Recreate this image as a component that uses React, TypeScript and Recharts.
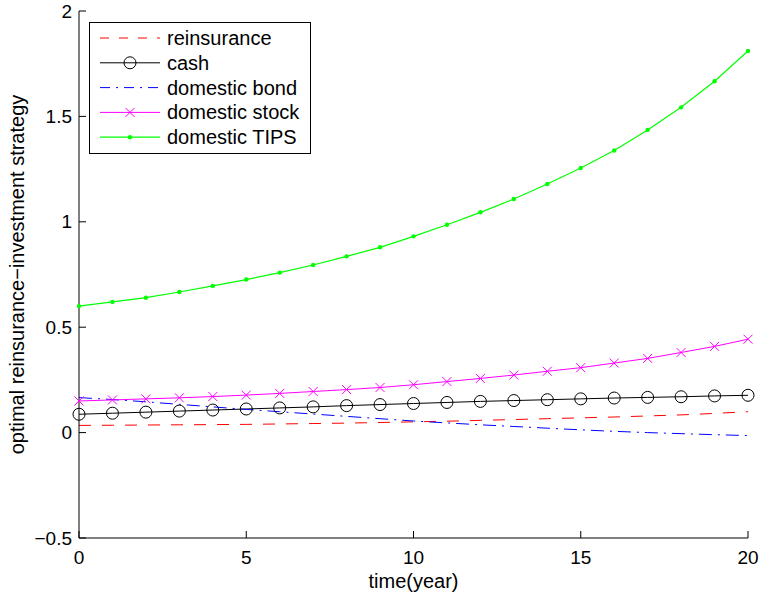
import React from 'react'
import { LineChart, Line, XAxis, YAxis, Legend } from 'recharts'

// time grid (years) and strategy weights per asset
const years = [0, 1, 2, 3, 4, 5, 6, 7, 8, 9, 10, 11, 12, 13, 14, 15, 16, 17, 18, 19, 20]
const reinsurance = [0.034, 0.035, 0.036, 0.037, 0.038, 0.039, 0.041, 0.043, 0.045, 0.048, 0.051, 0.054, 0.058, 0.062, 0.066, 0.070, 0.074, 0.079, 0.084, 0.091, 0.099]
const cash = [0.087, 0.092, 0.097, 0.102, 0.107, 0.112, 0.117, 0.122, 0.128, 0.133, 0.138, 0.143, 0.148, 0.152, 0.156, 0.160, 0.164, 0.167, 0.170, 0.174, 0.177]
const domesticBond = [0.166, 0.157, 0.146, 0.134, 0.122, 0.110, 0.099, 0.088, 0.077, 0.066, 0.055, 0.046, 0.037, 0.029, 0.021, 0.013, 0.006, 0.0, -0.005, -0.010, -0.014]
const domesticStock = [0.150, 0.155, 0.160, 0.165, 0.171, 0.178, 0.186, 0.195, 0.204, 0.214, 0.227, 0.242, 0.257, 0.273, 0.291, 0.308, 0.330, 0.352, 0.380, 0.409, 0.443]
const domesticTips = [0.600, 0.620, 0.640, 0.667, 0.696, 0.726, 0.759, 0.795, 0.836, 0.879, 0.931, 0.986, 1.045, 1.108, 1.179, 1.255, 1.338, 1.436, 1.543, 1.667, 1.810]

const xTicks = [0, 5, 10, 15, 20]
const yTicks = [-0.5, 0, 0.5, 1, 1.5, 2]

const data = years.map((t, i) => ({
  t,
  reinsurance: reinsurance[i],
  cash: cash[i],
  bond: domesticBond[i],
  stock: domesticStock[i],
  tips: domesticTips[i],
}))

const W = 761
const H = 596
const PLOT_LEFT = 79
const PLOT_RIGHT = 748
const PLOT_TOP = 11
const PLOT_BOTTOM = 538
const TICK = 7
const FONT = '"Liberation Sans", Arial, Helvetica, sans-serif'
const FS = 19
const FS_TEXT = 20

type Marker = 'none' | 'circle' | 'cross' | 'dot'

const SERIES: { key: string; name: string; color: string; dash?: string; legendDash?: string; marker: Marker; width: number }[] = [
  { key: 'reinsurance', name: 'reinsurance', color: '#ff0000', dash: '12 11', legendDash: '9 10', marker: 'none', width: 1 },
  { key: 'cash', name: 'cash', color: '#000000', marker: 'circle', width: 1 },
  { key: 'bond', name: 'domestic bond', color: '#0000ff', dash: '13 6 2 6', legendDash: '10 6 2 6', marker: 'none', width: 1 },
  { key: 'stock', name: 'domestic stock', color: '#ff00ff', marker: 'cross', width: 1 },
  { key: 'tips', name: 'domestic TIPS', color: '#00ff00', marker: 'dot', width: 1.2 },
]

function MarkerShape({ cx, cy, kind, color }: { cx: number; cy: number; kind: Marker; color: string }) {
  if (kind === 'circle') return <circle cx={cx} cy={cy} r={6} fill="none" stroke={color} strokeWidth={1} />
  if (kind === 'cross') {
    const s = 4.5
    return (
      <path
        d={`M${cx - s},${cy - s}L${cx + s},${cy + s}M${cx - s},${cy + s}L${cx + s},${cy - s}`}
        stroke={color}
        strokeWidth={1}
        fill="none"
      />
    )
  }
  if (kind === 'dot') return <circle cx={cx} cy={cy} r={2.2} fill={color} stroke="none" />
  return null
}

function fmtY(v: number) {
  return v < 0 ? `\u2212${Math.abs(v)}` : String(v)
}

function BottomTick(props: any) {
  const { x, payload } = props
  return (
    <g>
      <line x1={x} x2={x} y1={PLOT_BOTTOM} y2={PLOT_BOTTOM - TICK} stroke="#000" />
      <text x={x} y={PLOT_BOTTOM + 19} textAnchor="middle" dominantBaseline="central" fontSize={FS} fill="#000">
        {payload.value}
      </text>
    </g>
  )
}

function TopTick(props: any) {
  const { x } = props
  return <line x1={x} x2={x} y1={PLOT_TOP} y2={PLOT_TOP + TICK} stroke="#000" />
}

function LeftTick(props: any) {
  const { y, payload } = props
  return (
    <g>
      <line x1={PLOT_LEFT} x2={PLOT_LEFT + TICK} y1={y} y2={y} stroke="#000" />
      <text x={PLOT_LEFT - 7} y={y} textAnchor="end" dominantBaseline="central" fontSize={FS} fill="#000">
        {fmtY(payload.value)}
      </text>
    </g>
  )
}

function RightTick(props: any) {
  const { y } = props
  return <line x1={PLOT_RIGHT} x2={PLOT_RIGHT - TICK} y1={y} y2={y} stroke="#000" />
}

function XTitle() {
  return (
    <text x={(PLOT_LEFT + PLOT_RIGHT) / 2} y={581} textAnchor="middle" dominantBaseline="central" fontSize={FS_TEXT} fill="#000">
      time(year)
    </text>
  )
}

function YTitle() {
  const cx = 17
  const cy = (PLOT_TOP + PLOT_BOTTOM) / 2
  return (
    <text
      x={cx}
      y={cy}
      transform={`rotate(-90 ${cx} ${cy})`}
      textAnchor="middle"
      dominantBaseline="central"
      fontSize={FS_TEXT}
      fill="#000"
    >
      optimal reinsurance{'\u2212'}investment strategy
    </text>
  )
}

function LegendBox() {
  return (
    <svg width={222} height={132} style={{ display: 'block', fontFamily: FONT }}>
      <rect x={0.5} y={0.5} width={221} height={131} fill="#fff" stroke="#000" />
      {SERIES.map((s, i) => {
        const cy = 16 + i * 24.8
        return (
          <g key={s.key}>
            <line x1={11} x2={71} y1={cy} y2={cy} stroke={s.color} strokeWidth={s.width} strokeDasharray={s.legendDash} />
            <MarkerShape cx={41} cy={cy} kind={s.marker} color={s.color} />
            <text x={78} y={cy} dominantBaseline="central" fontSize={FS_TEXT} fill="#000">
              {s.name}
            </text>
          </g>
        )
      })}
    </svg>
  )
}

export default function App() {
  return (
    <div style={{ position: 'absolute', left: 0, top: 0, width: W, height: H, background: '#fff', fontFamily: FONT }}>
      <LineChart
        width={W}
        height={H}
        data={data}
        margin={{ top: PLOT_TOP, right: W - PLOT_RIGHT, bottom: 0, left: 0 }}
        style={{ fontFamily: FONT }}
      >
        <XAxis
          xAxisId="bottom"
          dataKey="t"
          type="number"
          domain={[0, 20]}
          ticks={xTicks}
          height={H - PLOT_BOTTOM}
          tickLine={false}
          tickSize={0}
          axisLine={{ stroke: '#000', strokeWidth: 1 }}
          tick={(p: any) => <BottomTick {...p} />}
          label={() => <XTitle />}
        />
        <XAxis
          xAxisId="top"
          orientation="top"
          dataKey="t"
          type="number"
          domain={[0, 20]}
          ticks={xTicks}
          height={0}
          tickLine={false}
          tickSize={0}
          axisLine={{ stroke: '#000', strokeWidth: 1 }}
          tick={(p: any) => <TopTick {...p} />}
        />
        <YAxis
          yAxisId="left"
          type="number"
          domain={[-0.5, 2]}
          ticks={yTicks}
          width={PLOT_LEFT}
          tickLine={false}
          tickSize={0}
          axisLine={{ stroke: '#000', strokeWidth: 1 }}
          tick={(p: any) => <LeftTick {...p} />}
          label={() => <YTitle />}
        />
        <YAxis
          yAxisId="right"
          orientation="right"
          type="number"
          domain={[-0.5, 2]}
          ticks={yTicks}
          width={0}
          tickLine={false}
          tickSize={0}
          axisLine={{ stroke: '#000', strokeWidth: 1 }}
          tick={(p: any) => <RightTick {...p} />}
        />
        {SERIES.map((s) => (
          <Line
            key={s.key}
            xAxisId="bottom"
            yAxisId="left"
            type="linear"
            dataKey={s.key}
            name={s.name}
            stroke={s.color}
            strokeWidth={s.width}
            strokeDasharray={s.dash}
            dot={
              s.marker === 'none'
                ? false
                : (p: any) => <MarkerShape key={`${s.key}-${p.index}`} cx={p.cx} cy={p.cy} kind={s.marker} color={s.color} />
            }
            activeDot={false}
            isAnimationActive={false}
          />
        ))}
        <Legend
          layout="vertical"
          align="center"
          verticalAlign="middle"
          content={() => <LegendBox />}
          wrapperStyle={{ left: 89, top: 22, width: 222, height: 132 }}
        />
      </LineChart>
    </div>
  )
}
